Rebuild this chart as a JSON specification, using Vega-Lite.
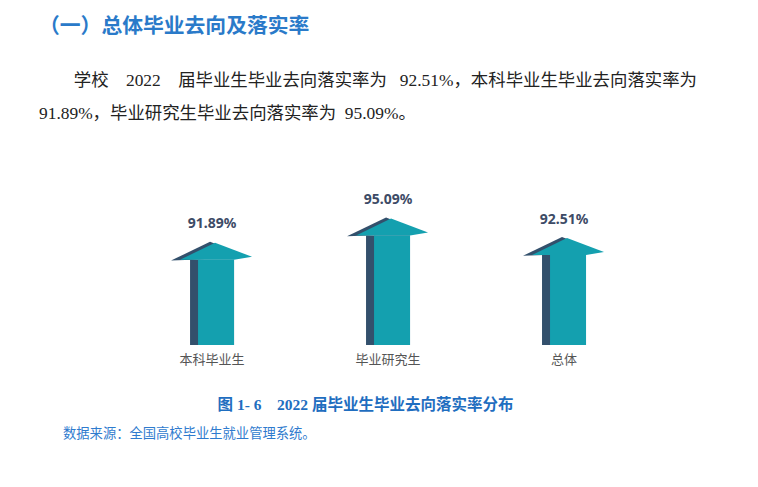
{
  "$schema": "https://vega.github.io/schema/vega-lite/v6.json",
  "background": "white",
  "padding": {"left": 0, "top": 16, "right": 0, "bottom": 0},
  "title": {
    "text": "（一）总体毕业去向及落实率",
    "subtitle": ["\u200b\u00a0\u00a0\u00a0\u00a0\u00a0\u00a0\u00a0\u00a0学校\u00a0\u00a0\u00a0\u00a02022\u00a0\u00a0\u00a0\u00a0届毕业生毕业去向落实率为\u00a0\u00a0\u00a092.51%，本科毕业生毕业去向落实率为", "91.89%，毕业研究生毕业去向落实率为\u00a0\u00a095.09%。"],
    "anchor": "start",
    "frame": "group",
    "dx": 39,
    "offset": 69,
    "font": "Noto Sans CJK SC",
    "fontSize": 20.8,
    "fontWeight": "bold",
    "color": "#2A7AC9",
    "subtitleFont": "Liberation Serif, Noto Sans CJK SC",
    "subtitleFontSize": 17.4,
    "subtitleColor": "#222222",
    "subtitlePadding": 34,
    "subtitleLineHeight": 33.4
  },
  "vconcat": [
    {
      "width": 730,
      "height": 147,
      "title": {
        "text": "数据来源：全国高校毕业生就业管理系统。",
        "orient": "bottom",
        "anchor": "start",
        "frame": "group",
        "dx": 63,
        "offset": 14,
        "font": "Noto Sans CJK SC",
        "fontSize": 13.3,
        "fontWeight": "normal",
        "color": "#2F7BCE"
      },
      "data": {
        "values": [
          {"category": "本科毕业生", "value": 91.89, "label": "91.89%"},
          {"category": "毕业研究生", "value": 95.09, "label": "95.09%"},
          {"category": "总体", "value": 92.51, "label": "92.51%"}
        ]
      },
      "encoding": {
        "x": {
          "field": "category",
          "type": "nominal",
          "sort": null,
          "scale": {"paddingInner": 0, "paddingOuter": 0.574, "align": 0.614},
          "axis": {
            "labelAngle": 0,
            "domain": false,
            "ticks": false,
            "labelPadding": 8,
            "labelFont": "Noto Sans CJK SC",
            "labelFontSize": 13,
            "labelColor": "#555555",
            "title": "图\u00a01-\u00a06\u00a0\u00a0\u00a0\u00a02022\u00a0届毕业生毕业去向落实率分布",
            "titleFont": "Liberation Serif, Noto Sans CJK SC",
            "titleFontSize": 15.5,
            "titleFontWeight": "bold",
            "titleColor": "#1F6EC0",
            "titlePadding": 31
          }
        },
        "y": {
          "field": "value",
          "type": "quantitative",
          "scale": {"domain": [80.7, 100], "zero": false, "nice": false},
          "axis": null
        }
      },
      "layer": [
        {
          "mark": {"type": "bar", "width": 44, "color": "#33506C"},
          "encoding": {"y2": {"datum": 80.7}}
        },
        {
          "mark": {"type": "bar", "width": 36, "xOffset": 4, "color": "#14A0AF"},
          "encoding": {"y2": {"datum": 80.7}}
        },
        {
          "mark": {"type": "point", "filled": true, "opacity": 1, "size": 6400, "strokeWidth": 0, "color": "#33506C",
            "shape": "M-1.025,0.02L-0.05,-0.45L0.9,-0.08L-0.5,0Z"}
        },
        {
          "mark": {"type": "point", "filled": true, "opacity": 1, "size": 6400, "strokeWidth": 0, "color": "#14A0AF",
            "shape": "M-0.8,0L0.075,-0.425L1,-0.075L0.55,0Z"}
        },
        {
          "mark": {"type": "text", "baseline": "alphabetic", "dy": -31.5, "font": "Noto Sans", "fontSize": 14, "fontWeight": "bold", "color": "#3D4B66"},
          "encoding": {"text": {"field": "label"}}
        }
      ]
    }
  ],
  "config": {
    "view": {"stroke": null}
  }
}
